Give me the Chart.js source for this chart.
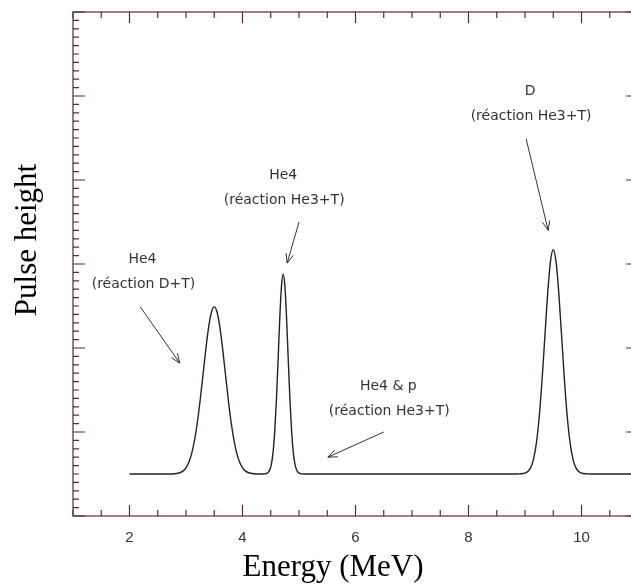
<!DOCTYPE html>
<html>
<head>
<meta charset="utf-8">
<script src="https://cdn.jsdelivr.net/npm/chart.js@4.4.1/dist/chart.umd.min.js"></script>
<style>
html,body{margin:0;padding:0;background:#fff;overflow:hidden;width:631px;height:586px;}
#wrap{position:relative;width:650px;height:586px;}
</style>
</head>
<body>
<div id="wrap"><canvas id="c" width="650" height="586"></canvas></div>
<script>
// ---- data ----
const energy = [2.0,2.7,2.8,2.9,2.95,3.0,3.05,3.1,3.15,3.2,3.25,3.3,3.35,3.4,3.45,3.5,3.55,3.6,3.65,3.7,3.75,3.8,3.85,3.9,3.95,4.0,4.05,4.1,4.2,4.3,
  4.4,4.44,4.48,4.51,4.54,4.57,4.60,4.63,4.66,4.69,4.72,4.75,4.78,4.81,4.84,4.87,4.90,4.93,4.96,5.00,5.04,5.2,
  8.8,8.9,9.0,9.05,9.1,9.15,9.2,9.25,9.3,9.35,9.4,9.45,9.5,9.55,9.6,9.65,9.7,9.75,9.8,9.85,9.9,9.95,10.0,10.1,10.2,11.0];
const pulse = [5,5,5.03,5.18,5.37,5.74,6.39,7.43,8.98,11.1,13.75,16.76,19.8,22.45,24.26,24.9,24.26,22.45,19.8,16.76,13.75,11.1,8.98,7.43,6.39,5.74,5.37,5.18,5.03,5.0,
  5.02,5.1,5.44,6.12,7.52,10.02,13.78,18.58,23.56,27.37,28.8,27.37,23.56,18.58,13.78,10.02,7.52,6.12,5.44,5.1,5.02,5.0,
  5.0,5.02,5.1,5.3,5.76,6.75,8.61,11.66,15.98,21.2,26.38,30.26,31.7,30.26,26.38,21.2,15.98,11.66,8.61,6.75,5.76,5.3,5.1,5.02,5.0,5.0];
const xTickValues = [2,4,6,8,10];
const xTickLabels = ['2','4','6','8','10'];
// annotations: label lines, label anchor (data), arrow from/to (data)
const annLines = [['He4','(réaction D+T)'],['He4','(réaction He3+T)'],['D','(réaction He3+T)'],['He4 & p','(réaction He3+T)']];
const annAnchor = [[2.23,30.5],[4.72,40.6],[9.09,50.5],[6.58,15.4]];
const arrowFrom = [[2.19,24.9],[5.0,35.0],[9.02,44.9],[6.50,10.0]];
const arrowTo = [[2.89,18.2],[4.79,30.1],[9.41,34.0],[5.51,7.0]];

const points = energy.map((e,i)=>({x:e,y:pulse[i]}));
const FRAME = '#5a2b2b';

const framePlugin = {
  id:'frame',
  afterDraw(chart){
    const ctx = chart.ctx, xs = chart.scales.x, ys = chart.scales.y, a = chart.chartArea;
    ctx.save();
    ctx.strokeStyle = FRAME; ctx.lineWidth = 1.2;
    ctx.strokeRect(a.left, a.top, a.right-a.left, a.bottom-a.top);
    ctx.beginPath();
    // x ticks (bottom & top), every 0.5, long at even values
    for (let v = xs.min; v <= xs.max + 1e-9; v += 0.5) {
      const p = xs.getPixelForValue(v);
      const major = xTickValues.includes(v);
      const L = major ? 11 : 6;
      ctx.moveTo(p, a.bottom); ctx.lineTo(p, a.bottom - L);
      ctx.moveTo(p, a.top); ctx.lineTo(p, a.top + L);
    }
    // y ticks (left & right), every 1, long every 10
    for (let v = ys.min; v <= ys.max + 1e-9; v += 1) {
      const p = ys.getPixelForValue(v);
      const L = (v % 10 === 0) ? 12 : 6;
      ctx.moveTo(a.left, p); ctx.lineTo(a.left + L, p);
      ctx.moveTo(a.right, p); ctx.lineTo(a.right - L, p);
    }
    ctx.stroke();
    // x tick labels
    ctx.fillStyle = '#333';
    ctx.font = '15px "Liberation Sans"';
    ctx.textAlign = 'center'; ctx.textBaseline = 'middle';
    xTickValues.forEach((v,i)=>{
      ctx.fillText(xTickLabels[i], xs.getPixelForValue(v), a.bottom + 22);
    });
    // annotations
    ctx.font = '14px "DejaVu Sans"';
    ctx.fillStyle = '#333'; ctx.strokeStyle = '#333'; ctx.lineWidth = 1;
    annLines.forEach((lines,i)=>{
      const x = xs.getPixelForValue(annAnchor[i][0]);
      const y = ys.getPixelForValue(annAnchor[i][1]);
      lines.forEach((t,j)=>ctx.fillText(t, x + (j? 1:0), y + j*25));
      const x1 = xs.getPixelForValue(arrowFrom[i][0]), y1 = ys.getPixelForValue(arrowFrom[i][1]);
      const x2 = xs.getPixelForValue(arrowTo[i][0]), y2 = ys.getPixelForValue(arrowTo[i][1]);
      const ang = Math.atan2(y2-y1, x2-x1), h = 10, w = 0.38;
      ctx.beginPath();
      ctx.moveTo(x1,y1); ctx.lineTo(x2,y2);
      ctx.moveTo(x2 - h*Math.cos(ang-w), y2 - h*Math.sin(ang-w));
      ctx.lineTo(x2,y2);
      ctx.lineTo(x2 - h*Math.cos(ang+w), y2 - h*Math.sin(ang+w));
      ctx.stroke();
    });
    // axis titles
    ctx.fillStyle = '#000';
    ctx.font = '31px "Liberation Serif"';
    ctx.textAlign = 'center'; ctx.textBaseline = 'alphabetic';
    ctx.fillText('Energy (MeV)', 333, 576);
    ctx.translate(36, 240);
    ctx.rotate(-Math.PI/2);
    ctx.fillText('Pulse height', 0, 0);
    ctx.restore();
  }
};

new Chart(document.getElementById('c'), {
  type: 'scatter',
  data: { datasets: [{
    data: points, showLine: true, borderColor: '#2a1e1e', borderWidth: 1.4,
    pointRadius: 0, cubicInterpolationMode: 'monotone', fill: false
  }]},
  options: {
    responsive: false, animation: false, devicePixelRatio: 1,
    layout: { padding: { left: 73, top: 12, right: 12, bottom: 70 } },
    plugins: { legend: { display: false }, tooltip: { enabled: false } },
    scales: {
      x: { type: 'linear', min: 1, max: 11, display: false },
      y: { type: 'linear', min: 0, max: 60, display: false }
    }
  },
  plugins: [framePlugin]
});
</script>
</body>
</html>
